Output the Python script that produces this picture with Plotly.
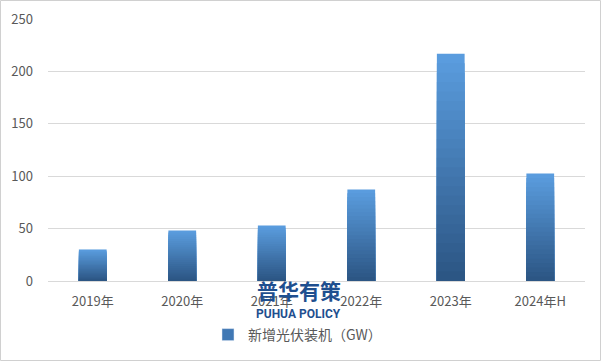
import plotly.graph_objects as go

categories = ["2019年", "2020年", "2021年", "2022年", "2023年", "2024年H"]
values = [30.1, 48.2, 52.9, 87.4, 216.9, 102.5]
series_name = "新增光伏装机（GW）"
y_ticks = [0, 50, 100, 150, 200, 250]

FONT = "Noto Sans CJK SC"
top_c = (90, 156, 222)
bot_c = (44, 86, 132)
N = 24

fig = go.Figure()
for i in range(N):
    f = 1 - i / N
    t = i / (N - 1)
    c = tuple(round(top_c[k] + (bot_c[k] - top_c[k]) * t) for k in range(3))
    fig.add_trace(go.Bar(
        x=categories, y=[v * f for v in values], width=0.31,
        marker=dict(color="rgb(%d,%d,%d)" % c, line=dict(width=0)),
        name=series_name, showlegend=False, hoverinfo="skip" if i else None,
    ))
# legend entry
fig.add_trace(go.Bar(x=[categories[0]], y=[None], name=series_name,
                     marker=dict(color="rgb(64,120,180)"), showlegend=True))

fig.update_layout(
    width=601, height=361, barmode="overlay",
    margin=dict(l=48, r=16, t=19, b=80),
    paper_bgcolor="white", plot_bgcolor="white",
    font=dict(family=FONT, size=13, color="#595959"),
    showlegend=True,
    legend=dict(orientation="h", x=0.4646, xanchor="center", yref="container",
                y=0.072, yanchor="middle",
                font=dict(size=14, color="#595959"), itemwidth=30),
    xaxis=dict(showline=True, linecolor="#d9d9d9", ticks="", tickfont=dict(size=13),
               ticklabelstandoff=8, automargin=False),
    yaxis=dict(range=[0, 250], tickvals=y_ticks, gridcolor="#d9d9d9", zeroline=False,
               showline=False, tickfont=dict(size=13), ticklabelstandoff=14,
               automargin=False),
)
fig.add_annotation(text="<b>普华有策</b>", x=0.467, y=0.03, xref="paper", yref="paper",
                   xanchor="center", yanchor="top", showarrow=False,
                   font=dict(family=FONT, size=21, color="#1f4f8f"))
fig.add_annotation(text="<b>PUHUA POLICY</b>", x=0.467, y=-0.09, xref="paper", yref="paper",
                   xanchor="center", yanchor="top", showarrow=False,
                   font=dict(family="Roboto", size=12, color="#1f4f8f"))
fig.add_shape(type="rect", xref="paper", yref="paper",
              x0=-47.5/537, x1=552.5/537, y0=-79.5/262, y1=280.5/262,
              line=dict(color="#d0d0d0", width=1), fillcolor="rgba(0,0,0,0)", layer="below")
fig.write_html("out.html")
